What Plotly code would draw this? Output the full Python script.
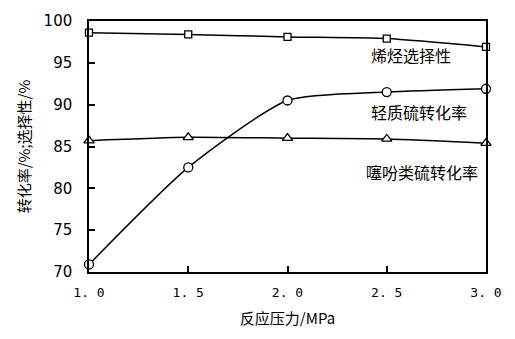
import plotly.graph_objects as go

# Reaction pressure (MPa)
pressure = [1.0, 1.5, 2.0, 2.5, 3.0]
# Olefin selectivity (%)
olefin_sel = [98.6, 98.4, 98.1, 97.9, 96.9]
# Light sulfur conversion (%)
light_s_conv = [70.9, 82.5, 90.5, 91.5, 91.9]
# Thiophenic sulfur conversion (%)
thiophene_conv = [85.7, 86.1, 86.0, 85.9, 85.4]

x_ticks = [1.0, 1.5, 2.0, 2.5, 3.0]
x_ticktext = ["1. 0", "1. 5", "2. 0", "2. 5", "3. 0"]
y_ticks = [70, 75, 80, 85, 90, 95, 100]

FONT = "Noto Sans CJK SC"

fig = go.Figure()

series = [
    (olefin_sel, "square", 7, "烯烃选择性"),
    (light_s_conv, "circle", 9, "轻质硫转化率"),
    (thiophene_conv, "triangle-up", 9, "噻吩类硫转化率"),
]
for ys, sym, sz, name in series:
    fig.add_trace(go.Scatter(
        x=pressure, y=ys, name=name, mode="lines+markers",
        line=dict(color="black", width=1.5, shape="spline", smoothing=0.6),
        marker=dict(symbol=sym, size=sz, color="white",
                    line=dict(color="black", width=1.3)),
        cliponaxis=False, showlegend=False,
    ))

# Series labels placed inside the plot
labels = [
    (2.62, 95.9, "烯烃选择性"),
    (2.66, 89.1, "轻质硫转化率"),
    (2.68, 81.9, "噻吩类硫转化率"),
]
for lx, ly, txt in labels:
    fig.add_annotation(x=lx, y=ly, text=txt, showarrow=False,
                       font=dict(family=FONT, size=16, color="black"))

fig.update_xaxes(
    range=[1.0, 3.0], tickvals=x_ticks, ticktext=x_ticktext,
    ticks="inside", ticklen=6, tickwidth=1.5, tickcolor="black",
    showline=True, linecolor="black", linewidth=1.5, mirror=True,
    showgrid=False, zeroline=False, ticklabelstandoff=8,
    tickfont=dict(family="DejaVu Sans Mono", size=13, color="black"),
    title=dict(text="反应压力/MPa", font=dict(family=FONT, size=15, color="black"),
               standoff=14),
)
fig.update_yaxes(
    range=[70, 100], tickvals=y_ticks,
    ticks="inside", ticklen=6, tickwidth=1.5, tickcolor="black",
    showline=True, linecolor="black", linewidth=1.5, mirror=True,
    showgrid=False, zeroline=False, ticklabelstandoff=12,
    tickfont=dict(family="DejaVu Sans", size=15, color="black"),
    title=dict(text="转化率/%;选择性/%", font=dict(family=FONT, size=15, color="black"),
               standoff=9),
)

fig.update_layout(
    width=515, height=339,
    margin=dict(l=89, r=29, t=15, b=67),
    plot_bgcolor="white", paper_bgcolor="white",
)

fig.write_html("out.html")
